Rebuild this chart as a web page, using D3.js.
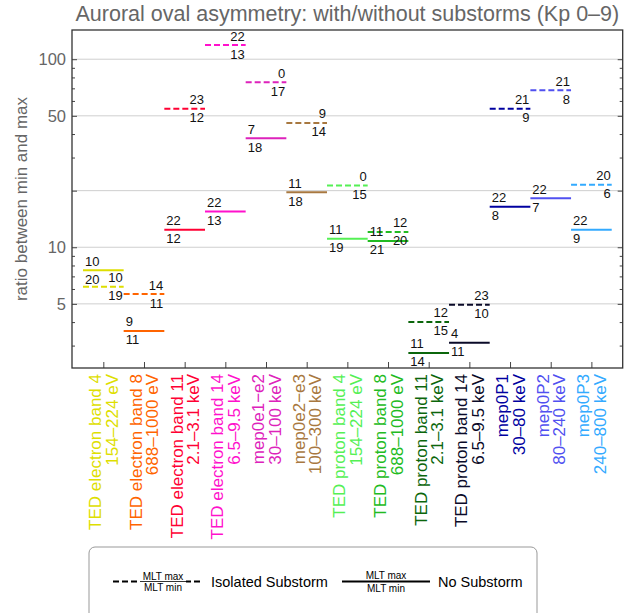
<!DOCTYPE html>
<html><head><meta charset="utf-8">
<script src="https://cdn.jsdelivr.net/npm/d3@7"></script>
<style>body{margin:0;background:#fff;} text{font-family:"Liberation Sans",Arial,Helvetica,sans-serif;}</style>
</head><body><svg id="c" width="632" height="613"></svg>
<script>
const categories = ["TED electron band 4","TED electron band 8","TED electron band 11","TED electron band 14","mep0e1\u2212e2","mep0e2\u2212e3","TED proton band 4","TED proton band 8","TED proton band 11","TED proton band 14","mep0P1","mep0P2","mep0P3"];
const energies = ["154\u2013224 eV","688\u20131000 eV","2.1\u20133.1 keV","6.5\u20139.5 keV","30\u2013100 keV","100\u2013300 keV","154\u2013224 eV","688\u20131000 eV","2.1\u20133.1 keV","6.5\u20139.5 keV","30\u201380 keV","80\u2013240 keV","240\u2013800 keV"];
const colors = ["#dede00","#ff6400","#ff0033","#ff11cc","#dd22bb","#a87840","#55f055","#22bb22","#0b660b","#0a0a28","#0000a0","#5050f0","#33aaff"];
const isoRatio = [6.17,5.64,54.6,119,75.5,45.8,21.3,12.06,4.01,4.95,54.6,68.4,21.5];
const noRatio  = [7.55,3.59,12.4,15.5,38.0,19.6,11.1,10.8,2.74,3.11,16.4,18.2,12.4];
const isoMax = [10,14,23,22,0,9,0,12,12,23,21,21,20];
const isoMin = [19,11,12,13,17,14,15,20,15,10,9,8,6];
const noMax  = [10,9,22,22,7,11,11,11,11,4,22,22,22];
const noMin  = [20,11,12,13,18,18,19,21,14,11,8,7,9];
const yTickLabels = [5,10,50,100];
const yGrid = [5,10,20,50,100];
const yMinor = [3,4,6,7,8,9,30,40,60,70,80,90];

const svg = d3.select("#c");
const L=72,R=622.7,T=30,B=368;
const x = d3.scaleLinear().domain([0.23,13.77]).range([L,R]);
const y = d3.scaleLog().domain([2.28,143]).range([B,T]);
const gray="#666";

svg.append("text").attr("x",(L+R)/2).attr("y",21).attr("text-anchor","middle")
  .attr("font-size",21.5).attr("fill",gray).text("Auroral oval asymmetry: with/without substorms (Kp 0\u20139)");

// grid
svg.append("g").selectAll("line").data(yGrid).join("line")
  .attr("x1",L).attr("x2",R).attr("y1",d=>y(d)).attr("y2",d=>y(d))
  .attr("stroke","#cfcfcf").attr("stroke-width",1);

// y axes (left and right) with inward ticks
const yAxL = d3.axisRight(y).tickValues(yGrid).tickSize(5).tickFormat("");
const yAxR = d3.axisLeft(y).tickValues(yGrid).tickSize(5).tickFormat("");
const yMinL = d3.axisRight(y).tickValues(yMinor).tickSize(3).tickFormat("");
const yMinR = d3.axisLeft(y).tickValues(yMinor).tickSize(3).tickFormat("");
[[yAxL,L],[yMinL,L],[yAxR,R],[yMinR,R]].forEach(([a,px])=>{
  const g=svg.append("g").attr("transform",`translate(${px},0)`).call(a);
  g.select(".domain").remove();
  g.selectAll("line").attr("stroke","#444");
});
// y tick labels
svg.append("g").selectAll("text").data(yTickLabels).join("text")
  .attr("x",L-6).attr("y",d=>y(d)).attr("dy","0.35em").attr("text-anchor","end")
  .attr("font-size",16.5).attr("fill",gray).text(d=>d);
svg.append("text").attr("transform",`translate(27,${(T+B)/2}) rotate(-90)`)
  .attr("text-anchor","middle").attr("font-size",17).attr("fill",gray).text("ratio between min and max");

// x axis ticks inward
const xAx = d3.axisTop(x).tickValues(d3.range(1,categories.length+1)).tickSize(6).tickFormat("");
const gx = svg.append("g").attr("transform",`translate(0,${B})`).call(xAx);
gx.select(".domain").remove(); gx.selectAll("line").attr("stroke","#444");

// frame
svg.append("rect").attr("x",L).attr("y",T).attr("width",R-L).attr("height",B-T)
  .attr("fill","none").attr("stroke","#333").attr("stroke-width",1.3);

// segments
const idx = d3.range(categories.length);
const segs = svg.append("g");
idx.forEach(i=>{
  const c=colors[i], k=i+1, x0=x(k-0.5), x1=x(k+0.5);
  segs.append("line").attr("x1",x0).attr("x2",x1).attr("y1",y(noRatio[i])).attr("y2",y(noRatio[i]))
    .attr("stroke",c).attr("stroke-width",2);
  segs.append("line").attr("x1",x0).attr("x2",x1).attr("y1",y(isoRatio[i])).attr("y2",y(isoRatio[i]))
    .attr("stroke",c).attr("stroke-width",2).attr("stroke-dasharray","6,3");
  segs.append("text").attr("x",x0+2).attr("y",y(noRatio[i])-4.5).attr("font-size",13).attr("fill","#111").text(noMax[i]);
  segs.append("text").attr("x",x0+2).attr("y",y(noRatio[i])+13.5).attr("font-size",13).attr("fill","#111").text(noMin[i]);
  segs.append("text").attr("x",x1-1).attr("y",y(isoRatio[i])-4.5).attr("text-anchor","end").attr("font-size",13).attr("fill","#111").text(isoMax[i]);
  segs.append("text").attr("x",x1-1).attr("y",y(isoRatio[i])+13.5).attr("text-anchor","end").attr("font-size",13).attr("fill","#111").text(isoMin[i]);
});

// x labels
const xl = svg.append("g");
idx.forEach(i=>{
  const k=i+1;
  xl.append("text").attr("transform",`translate(${x(k)-2},374) rotate(-90)`).attr("text-anchor","end")
    .attr("font-size",17).attr("fill",colors[i]).text(categories[i]);
  xl.append("text").attr("transform",`translate(${x(k)+14.5},374) rotate(-90)`).attr("text-anchor","end")
    .attr("font-size",17).attr("fill",colors[i]).text(energies[i]);
});

// legend
const lg = svg.append("g");
lg.append("rect").attr("x",89).attr("y",547).attr("width",448).attr("height",80).attr("rx",6)
  .attr("fill","#fff").attr("stroke","#999").attr("stroke-width",1);
const ly=581.5;
lg.append("line").attr("x1",113).attr("x2",200).attr("y1",ly).attr("y2",ly).attr("stroke","#000").attr("stroke-width",2).attr("stroke-dasharray","6,3");
lg.append("rect").attr("x",140).attr("y",ly-2).attr("width",46).attr("height",4).attr("fill","#fff");
lg.append("line").attr("x1",140).attr("x2",186).attr("y1",ly).attr("y2",ly).attr("stroke","#000").attr("stroke-width",0.8);
lg.append("text").attr("x",163).attr("y",ly-2).attr("text-anchor","middle").attr("font-size",10).text("MLT max");
lg.append("text").attr("x",163).attr("y",ly+9.5).attr("text-anchor","middle").attr("font-size",10).text("MLT min");
lg.append("text").attr("x",211).attr("y",ly+5).attr("font-size",14.5).text("Isolated Substorm");
lg.append("line").attr("x1",342).attr("x2",430).attr("y1",ly).attr("y2",ly).attr("stroke","#000").attr("stroke-width",2);
lg.append("text").attr("x",386).attr("y",ly-3).attr("text-anchor","middle").attr("font-size",10).text("MLT max");
lg.append("text").attr("x",386).attr("y",ly+10.5).attr("text-anchor","middle").attr("font-size",10).text("MLT min");
lg.append("text").attr("x",438).attr("y",ly+5).attr("font-size",14.5).text("No Substorm");
</script></body></html>
